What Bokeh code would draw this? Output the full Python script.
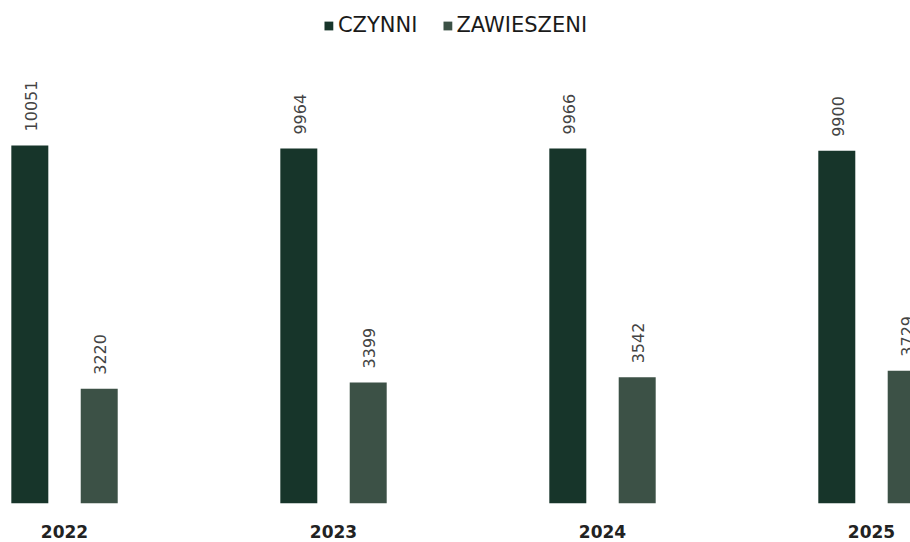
import numpy as np
from bokeh.plotting import figure
from bokeh.models import ColumnDataSource, Range1d, FixedTicker, Legend, LegendItem
from bokeh.transform import dodge
from bokeh.core.properties import value
from bokeh.embed import file_html
from bokeh.resources import INLINE

years = ["2022", "2023", "2024", "2025"]
czynni = [10051, 9964, 9966, 9900]
zawieszeni = [3220, 3399, 3542, 3729]

pos = np.arange(len(years)) + 0.5
src = ColumnDataSource(dict(pos=pos, czynni=czynni, zawieszeni=zawieszeni,
                            czynni_lbl=[str(v) for v in czynni],
                            zawieszeni_lbl=[str(v) for v in zawieszeni]))

p = figure(width=910, height=542, output_backend="svg", toolbar_location=None,
           x_range=Range1d(0.262, 3.645), y_range=Range1d(0, 14121),
           min_border_left=0, min_border_right=0, min_border_top=0, min_border_bottom=39)
p.outline_line_color = None
p.grid.visible = False
p.yaxis.visible = False
p.background_fill_color = "white"

c_col = "#17352a"
z_col = "#3c5146"
off = 0.129
bw = 0.1375

r1 = p.vbar(x=dodge("pos", -off), top="czynni", width=bw, source=src,
            fill_color=c_col, line_color=None)
r2 = p.vbar(x=dodge("pos", off), top="zawieszeni", width=bw, source=src,
            fill_color=z_col, line_color=None)

for col, lbl, d in (("czynni", "czynni_lbl", -off), ("zawieszeni", "zawieszeni_lbl", off)):
    p.text(x=dodge("pos", d + 0.004), y=col, text=lbl, source=src, angle=np.pi / 2,
           text_align="left", text_baseline="middle", y_offset=-14,
           text_font=value("DejaVu Sans"), text_font_size="16px", text_color="#444444")

ax = p.xaxis[0]
ax.ticker = FixedTicker(ticks=list(pos))
ax.major_label_overrides = {float(x): y for x, y in zip(pos, years)}
ax.axis_line_color = None
ax.major_tick_line_color = None
ax.minor_tick_line_color = None
ax.major_tick_out = 0
ax.major_tick_in = 0
ax.major_label_standoff = 21
ax.major_label_text_font = "DejaVu Sans"
ax.major_label_text_font_size = "17px"
ax.major_label_text_font_style = "bold"
ax.major_label_text_color = "#222222"

legend = Legend(items=[LegendItem(label="CZYNNI", renderers=[r1]),
                       LegendItem(label="ZAWIESZENI", renderers=[r2])],
                location="top_center", orientation="horizontal",
                border_line_color=None, background_fill_alpha=0,
                glyph_width=11, glyph_height=11, label_standoff=4, spacing=24,
                label_text_font="DejaVu Sans", label_text_font_size="21px",
                label_text_color="#1a1a1a", margin=13, padding=0)
p.add_layout(legend)

open("out.html", "w").write(file_html(p, INLINE))
